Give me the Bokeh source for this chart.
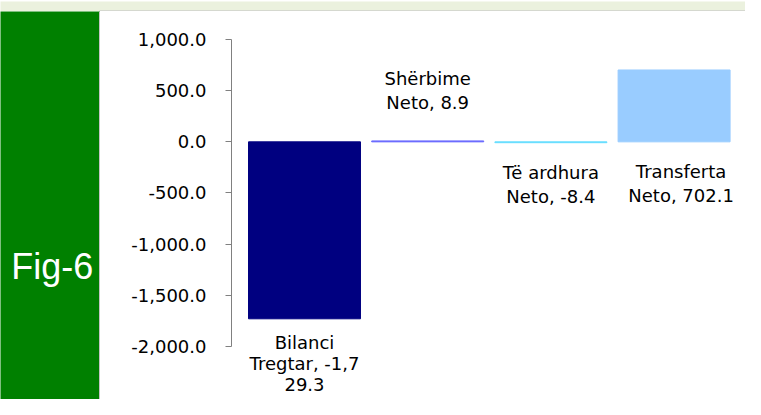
from bokeh.plotting import figure
from bokeh.layouts import column, row
from bokeh.models import ColumnDataSource, FixedTicker, NumeralTickFormatter, Range1d
from bokeh.core.properties import value
from bokeh.embed import file_html
from bokeh.resources import INLINE

# ---- data ----
categories = ["Bilanci Tregtar", "Shërbime Neto", "Të ardhura Neto", "Transferta Neto"]
values = [-1729.3, 8.9, -8.4, 702.1]
bar_colors = ["#000080", "#6666FF", "#66DDFF", "#99CCFF"]
label_lines = [
    ["Bilanci", "Tregtar, -1,7", "29.3"],
    ["Shërbime", "Neto, 8.9"],
    ["Të ardhura", "Neto, -8.4"],
    ["Transferta", "Neto, 702.1"],
]
y_ticks = [-2000, -1500, -1000, -500, 0, 500, 1000]
fig_label = "Fig-6"

# ---- styling / layout constants ----
label_offsets_px = [24, -62, 29.5, 102]   # first baseline, px below the bar end
label_line_px = [21, 23.5, 24, 24]
label_dx_px = [0, 0, 0, 7]
TOTAL_W, TOTAL_H = 745, 399
TOP_H = 11
SIDE_W = 100
CH_W, CH_H = TOTAL_W - SIDE_W, TOTAL_H - TOP_H
Y_START, Y_END = -2517.9, 1273.6
X_START, X_END = -0.5925, 3.5796
FONT = "DejaVu Sans"

# ---- top strip ----
top = figure(width=TOTAL_W, height=TOP_H, x_range=Range1d(0, TOTAL_W), y_range=Range1d(0, TOP_H),
             toolbar_location=None, output_backend="svg", min_border=0,
             x_axis_location=None, y_axis_location=None, outline_line_color=None,
             background_fill_color="#EBF1DE", border_fill_color="#EBF1DE")
top.grid.visible = False
top.quad(left=[99], right=[TOTAL_W], bottom=[0], top=[2], fill_color="#BFBFBF", line_color=None)

# ---- green side panel ----
side = figure(width=SIDE_W, height=CH_H, x_range=Range1d(0, SIDE_W), y_range=Range1d(0, CH_H),
              toolbar_location=None, output_backend="svg", min_border=0,
              x_axis_location=None, y_axis_location=None, outline_line_color=None,
              background_fill_color="#008000", border_fill_color="#008000")
side.grid.visible = False
side.quad(left=[98.5], right=[SIDE_W], bottom=[0], top=[CH_H], fill_color="#C4C4C4", line_color=None)
side.text(x=[51.7], y=[133.3], text=[fig_label], text_align="center", text_baseline="alphabetic",
          text_font=value("Liberation Sans"), text_font_size="36px", text_color="white")

# ---- chart ----
p = figure(width=CH_W, height=CH_H, x_range=Range1d(X_START, X_END), y_range=Range1d(Y_START, Y_END),
           toolbar_location=None, output_backend="svg",
           min_border_left=131, min_border_right=0, min_border_top=0, min_border_bottom=0,
           x_axis_location=None, outline_line_color=None,
           background_fill_color="white", border_fill_color="white")
p.grid.visible = False

src = ColumnDataSource(dict(x=list(range(len(categories))), top=values, color=bar_colors, cat=categories))
p.vbar(x="x", top="top", bottom=0, width=0.909, fill_color="color", line_color="color",
       line_width=1, source=src)

units_per_px = (Y_END - Y_START) / CH_H
lx, ly, lt, ldx = [], [], [], []
for i, lines in enumerate(label_lines):
    for j, t in enumerate(lines):
        lx.append(i)
        ly.append(values[i] - (label_offsets_px[i] + j * label_line_px[i]) * units_per_px)
        lt.append(t)
        ldx.append(label_dx_px[i])
lsrc = ColumnDataSource(dict(x=lx, y=ly, text=lt, dx=ldx))
p.text(x="x", y="y", text="text", x_offset="dx", source=lsrc, text_align="center",
       text_baseline="alphabetic", text_font=value(FONT), text_font_size="18px", text_color="black")

ax = p.yaxis[0]
ax.ticker = FixedTicker(ticks=y_ticks)
ax.formatter = NumeralTickFormatter(format="0,0.0")
ax.bounds = (min(y_ticks), max(y_ticks))
ax.major_tick_in = 0
ax.major_tick_out = 6
ax.minor_tick_in = 0
ax.minor_tick_out = 0
ax.axis_line_color = "#808080"
ax.major_tick_line_color = "#808080"
ax.major_label_text_font = FONT
ax.major_label_text_font_size = "18px"
ax.major_label_text_color = "black"
ax.major_label_standoff = 19

layout = column(top, row(side, p))
open("out.html", "w").write(file_html(layout, INLINE))
